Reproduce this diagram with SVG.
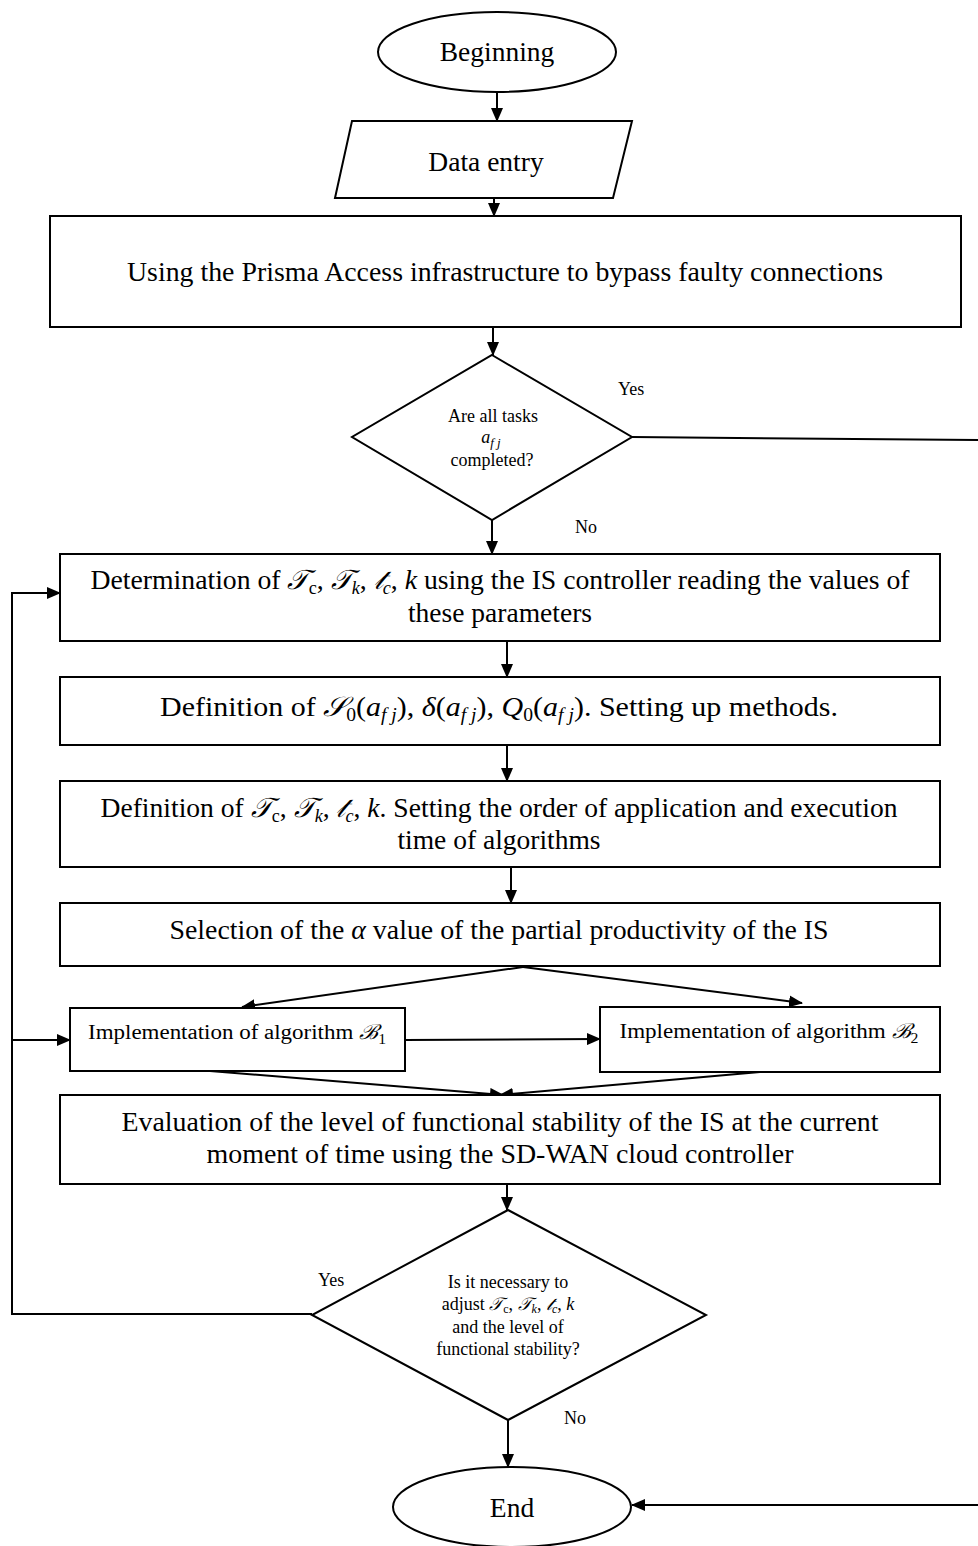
<svg xmlns="http://www.w3.org/2000/svg" width="978" height="1546" viewBox="0 0 978 1546" font-family="Liberation Serif, Times New Roman, serif">
<style>
.s{fill:#fff;stroke:#000;stroke-width:2}
.t{fill:#000;text-anchor:middle}
.b{font-size:27.5px}
.m{font-size:20.5px}
.d{font-size:18px}
.l{font-size:18px;fill:#000}
.i{font-style:italic}
.c{fill:none;stroke:#000;stroke-width:2}
</style>
<defs>
<marker id="a" markerUnits="userSpaceOnUse" markerWidth="14" markerHeight="12" refX="13" refY="6" orient="auto">
<path d="M0,0 L14,6 L0,12 Z" fill="#000"/>
</marker>
</defs>
<g id="connectors">
<line class="c" x1="497" y1="92" x2="497" y2="121" marker-end="url(#a)"/>
<line class="c" x1="494" y1="198" x2="494" y2="216" marker-end="url(#a)"/>
<line class="c" x1="493" y1="327" x2="493" y2="355" marker-end="url(#a)"/>
<line class="c" x1="632" y1="437" x2="978" y2="440"/>
<line class="c" x1="492" y1="520" x2="492" y2="554" marker-end="url(#a)"/>
<line class="c" x1="507" y1="641" x2="507" y2="677" marker-end="url(#a)"/>
<line class="c" x1="507" y1="745" x2="507" y2="781" marker-end="url(#a)"/>
<line class="c" x1="511" y1="867" x2="511" y2="903" marker-end="url(#a)"/>
<line class="c" x1="523" y1="967" x2="242" y2="1007" marker-end="url(#a)"/>
<line class="c" x1="523" y1="967" x2="802" y2="1003" marker-end="url(#a)"/>
<line class="c" x1="405" y1="1040" x2="600" y2="1039" marker-end="url(#a)"/>
<line class="c" x1="210" y1="1071" x2="503" y2="1095" marker-end="url(#a)"/>
<line class="c" x1="760" y1="1072" x2="500" y2="1095" marker-end="url(#a)"/>
<line class="c" x1="507" y1="1184" x2="507" y2="1210" marker-end="url(#a)"/>
<polyline class="c" points="312,1314 12,1314 12,593 60,593" marker-end="url(#a)"/>
<line class="c" x1="12" y1="1040" x2="70" y2="1040" marker-end="url(#a)"/>
<line class="c" x1="508" y1="1420" x2="508" y2="1467" marker-end="url(#a)"/>
<line class="c" x1="978" y1="1505" x2="632" y2="1505" marker-end="url(#a)"/>
</g>
<g id="beginning">
<ellipse class="s" cx="497" cy="52" rx="119" ry="40"/>
<text class="t b" x="497" y="61">Beginning</text>
</g>
<g id="data-entry">
<polygon class="s" points="352,121 632,121 613,198 335,198"/>
<text class="t b" x="486" y="171">Data entry</text>
</g>
<g id="prisma">
<rect class="s" x="50" y="216" width="911" height="111"/>
<text class="t b" x="505" y="281" textLength="756" lengthAdjust="spacingAndGlyphs">Using the Prisma Access infrastructure to bypass faulty connections</text>
</g>
<g id="decision1">
<polygon class="s" points="492,355 632,437 492,520 352,437"/>
<text class="t d" x="493" y="422">Are all tasks</text>
<text class="t d" x="491" y="443"><tspan class="i">a</tspan><tspan class="i" font-size="13" dy="4">f j</tspan></text>
<text class="t d" x="492" y="466">completed?</text>
</g>
<text class="l" x="618" y="395">Yes</text>
<text class="l" x="575" y="533">No</text>
<g id="determination">
<rect class="s" x="60" y="554" width="880" height="87"/>
<text class="t b" x="500" y="589" textLength="819" lengthAdjust="spacingAndGlyphs">Determination of <tspan class="i">𝒯</tspan><tspan font-size="18" dy="5">c</tspan><tspan dy="-5">, </tspan><tspan class="i">𝒯</tspan><tspan class="i" font-size="18" dy="5">k</tspan><tspan dy="-5">, </tspan><tspan class="i">𝓉</tspan><tspan class="i" font-size="18" dy="5">c</tspan><tspan dy="-5">, </tspan><tspan class="i">k</tspan> using the IS controller reading the values of</text>
<text class="t b" x="500" y="622">these parameters</text>
</g>
<g id="definition1">
<rect class="s" x="60" y="677" width="880" height="68"/>
<text class="t b" x="499" y="716" textLength="678" lengthAdjust="spacingAndGlyphs">Definition of <tspan class="i">𝒮</tspan><tspan font-size="18" dy="5">0</tspan><tspan dy="-5">(</tspan><tspan class="i">a</tspan><tspan class="i" font-size="18" dy="5">f j</tspan><tspan dy="-5">),  </tspan><tspan class="i">δ</tspan>(<tspan class="i">a</tspan><tspan class="i" font-size="18" dy="5">f j</tspan><tspan dy="-5">), </tspan><tspan class="i">Q</tspan><tspan font-size="18" dy="5">0</tspan><tspan dy="-5">(</tspan><tspan class="i">a</tspan><tspan class="i" font-size="18" dy="5">f j</tspan><tspan dy="-5">). Setting up methods.</tspan></text>
</g>
<g id="definition2">
<rect class="s" x="60" y="781" width="880" height="86"/>
<text class="t b" x="499" y="817" textLength="797" lengthAdjust="spacingAndGlyphs">Definition of <tspan class="i">𝒯</tspan><tspan font-size="18" dy="5">c</tspan><tspan dy="-5">, </tspan><tspan class="i">𝒯</tspan><tspan class="i" font-size="18" dy="5">k</tspan><tspan dy="-5">, </tspan><tspan class="i">𝓉</tspan><tspan class="i" font-size="18" dy="5">c</tspan><tspan dy="-5">, </tspan><tspan class="i">k</tspan>. Setting the order of application and execution</text>
<text class="t b" x="499" y="849">time of algorithms</text>
</g>
<g id="selection">
<rect class="s" x="60" y="903" width="880" height="63"/>
<text class="t b" x="499" y="939" textLength="659" lengthAdjust="spacingAndGlyphs">Selection of the <tspan class="i">α</tspan> value of the partial productivity of the IS</text>
</g>
<g id="algorithm1">
<rect class="s" x="70" y="1008" width="335" height="63"/>
<text class="t m" x="237" y="1039" textLength="298" lengthAdjust="spacingAndGlyphs">Implementation of algorithm <tspan class="i">ℬ</tspan><tspan font-size="14" dy="5">1</tspan></text>
</g>
<g id="algorithm2">
<rect class="s" x="600" y="1007" width="340" height="65"/>
<text class="t m" x="769" y="1038" textLength="299" lengthAdjust="spacingAndGlyphs">Implementation of algorithm <tspan class="i">ℬ</tspan><tspan font-size="14" dy="5">2</tspan></text>
</g>
<g id="evaluation">
<rect class="s" x="60" y="1095" width="880" height="89"/>
<text class="t b" x="500" y="1131" textLength="757" lengthAdjust="spacingAndGlyphs">Evaluation of the level of functional stability of the IS at the current</text>
<text class="t b" x="500" y="1163" textLength="587" lengthAdjust="spacingAndGlyphs">moment of time using the SD-WAN cloud controller</text>
</g>
<g id="decision2">
<polygon class="s" points="508,1210 706,1315 508,1420 312,1315"/>
<text class="t d" x="508" y="1288">Is it necessary to</text>
<text class="t d" x="508" y="1310">adjust <tspan class="i">𝒯</tspan><tspan font-size="12" dy="3">c</tspan><tspan dy="-3">, </tspan><tspan class="i">𝒯</tspan><tspan class="i" font-size="12" dy="3">k</tspan><tspan dy="-3">, </tspan><tspan class="i">𝓉</tspan><tspan class="i" font-size="12" dy="3">c</tspan><tspan dy="-3">, </tspan><tspan class="i">k</tspan></text>
<text class="t d" x="508" y="1333">and the level of</text>
<text class="t d" x="508" y="1355">functional stability?</text>
</g>
<text class="l" x="318" y="1286">Yes</text>
<text class="l" x="564" y="1424">No</text>
<g id="end">
<ellipse class="s" cx="512" cy="1507" rx="119" ry="40"/>
<text class="t b" x="512" y="1517">End</text>
</g>
</svg>
